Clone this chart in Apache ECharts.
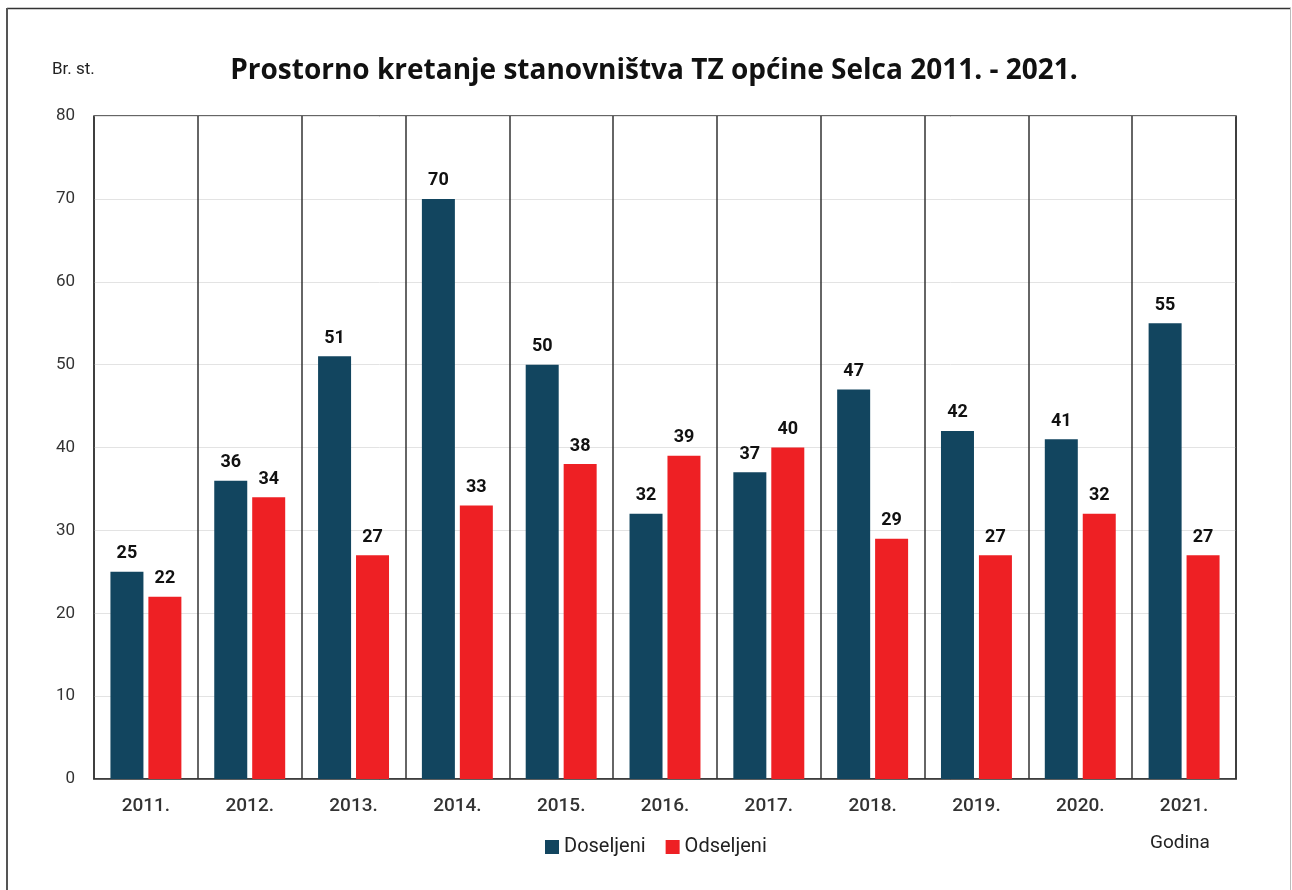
<!DOCTYPE html>
<html>
<head>
<meta charset="utf-8">
<script src="https://cdn.jsdelivr.net/npm/echarts@6/dist/echarts.min.js"></script>
<style>
  html, body { margin: 0; padding: 0; background: #fff; }
  #chart { width: 1292px; height: 890px; }
</style>
</head>
<body>
<div id="chart"></div>
<script>
var years = ['2011.', '2012.', '2013.', '2014.', '2015.', '2016.', '2017.', '2018.', '2019.', '2020.', '2021.'];
var doseljeni = [25, 36, 51, 70, 50, 32, 37, 47, 42, 41, 55];
var odseljeni = [22, 34, 27, 33, 38, 39, 40, 29, 27, 32, 27];
var yTicks = { min: 0, max: 80, interval: 10 };

var font = 'Roboto, "Liberation Sans", sans-serif';
var chart = echarts.init(document.getElementById('chart'));

var option = {
  animation: false,
  textStyle: { fontFamily: font },
  title: {
    text: 'Prostorno kretanje stanovništva TZ općine Selca 2011. - 2021.',
    left: 649,
    textAlign: 'center',
    top: 52,
    textStyle: { fontSize: 28, fontWeight: 'bold', color: '#111', fontFamily: '"Open Sans", Roboto, sans-serif' }
  },
  graphic: [
    { type: 'line', shape: { x1: 7, y1: 8.5, x2: 1291, y2: 8.5 }, style: { stroke: '#333', lineWidth: 1.5 } },
    { type: 'line', shape: { x1: 7, y1: 8, x2: 7, y2: 890 }, style: { stroke: '#555', lineWidth: 2 } },
    { type: 'line', shape: { x1: 1290.5, y1: 8, x2: 1290.5, y2: 890 }, style: { stroke: '#bbb', lineWidth: 1 } },
    { type: 'text', left: 52, top: 61, style: { text: 'Br. st.', fontSize: 17, fill: '#222', fontFamily: font } },
    { type: 'text', left: 1150, top: 834, style: { text: 'Godina', fontSize: 19, fill: '#222', fontFamily: font } }
  ],
  legend: {
    left: 540,
    top: 832,
    itemWidth: 14,
    itemHeight: 14,
    itemGap: 20,
    icon: 'rect',
    textStyle: { fontSize: 20, color: '#222', fontFamily: font },
    data: ['Doseljeni', 'Odseljeni']
  },
  grid: {
    left: 94,
    right: 56,
    top: 116,
    bottom: 111,
    show: true,
    borderColor: '#333',
    borderWidth: 1.5
  },
  xAxis: {
    type: 'category',
    data: years,
    axisLine: { lineStyle: { color: '#333', width: 1.5 } },
    axisTick: { show: false },
    axisLabel: { fontSize: 19, fontWeight: 500, color: '#333', margin: 18 },
    splitLine: { show: true, lineStyle: { color: '#333', width: 1.5 } }
  },
  yAxis: {
    type: 'value',
    min: yTicks.min,
    max: yTicks.max,
    interval: yTicks.interval,
    axisLine: { show: false },
    axisTick: { show: false },
    axisLabel: { fontSize: 17, color: '#333', margin: 19 },
    splitLine: { lineStyle: { color: '#e3e3e3', width: 1 } }
  },
  series: [
    {
      name: 'Doseljeni',
      type: 'bar',
      data: doseljeni,
      barWidth: 33,
      barGap: '15%',
      itemStyle: { color: '#12455F' },
      label: { show: true, position: 'top', distance: 9, fontSize: 18, fontWeight: 'bold', color: '#111' }
    },
    {
      name: 'Odseljeni',
      type: 'bar',
      data: odseljeni,
      barWidth: 33,
      barGap: '15%',
      itemStyle: { color: '#EE2024' },
      label: { show: true, position: 'top', distance: 9, fontSize: 18, fontWeight: 'bold', color: '#111' }
    }
  ]
};

chart.setOption(option);
</script>
</body>
</html>
